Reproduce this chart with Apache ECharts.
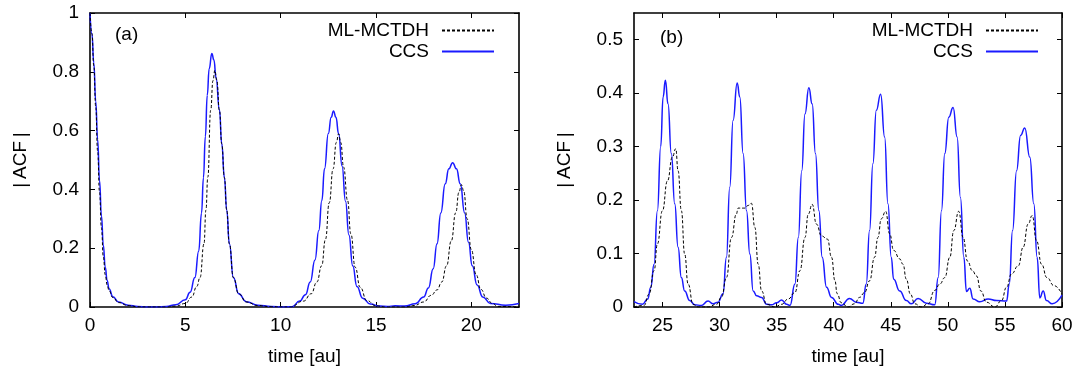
<!DOCTYPE html>
<html><head><meta charset="utf-8">
<script src="https://cdn.jsdelivr.net/npm/echarts@6/dist/echarts.min.js"></script>
<style>html,body{margin:0;padding:0;background:#fff}#c{width:1080px;height:376px}</style>
</head><body><div id="c"></div>
<script>
// ---- tick labels ----
const aTicksX = [0, 5, 10, 15, 20];
const aTicksY = [0, 0.2, 0.4, 0.6, 0.8, 1];
const bTicksX = [25, 30, 35, 40, 45, 50, 55, 60];
const bTicksY = [0, 0.1, 0.2, 0.3, 0.4, 0.5];
const seriesNames = ['ML-MCTDH', 'CCS'];

// ---- panel (a): CCS ----
const aCcsT = [0,0.1,0.2,0.3,0.4,0.5,0.6,0.7,0.8,0.9,1.0,1.2,1.5,2.0,2.5,3.0,3.5,4.0,4.5,5.0,5.25,5.5,5.7,5.85,5.95,6.05,6.15,6.25,6.39,6.5,6.61,6.79,6.91,7.05,7.17,7.31,7.52,7.8,8.2,8.8,9.5,10.2,10.6,11.0,11.3,11.55,11.8,12.0,12.16,12.3,12.5,12.65,12.77,12.9,13.04,13.22,13.4,13.58,13.78,14.0,14.3,14.7,15.2,15.6,16.0,16.5,17.06,17.5,17.75,18.0,18.2,18.4,18.63,18.82,19.02,19.22,19.42,19.65,19.85,20.05,20.3,20.6,21.0,21.8,22.5];
const aCcsV = [1.0,0.93,0.83,0.70,0.57,0.43,0.31,0.21,0.135,0.09,0.062,0.035,0.017,0.006,0.002,0.0,0.0,0.002,0.008,0.025,0.05,0.10,0.19,0.32,0.44,0.58,0.72,0.81,0.862,0.84,0.78,0.67,0.555,0.44,0.33,0.215,0.10,0.045,0.018,0.006,0.002,0.0,0.001,0.02,0.042,0.085,0.16,0.26,0.362,0.47,0.59,0.645,0.667,0.645,0.589,0.48,0.36,0.245,0.14,0.07,0.03,0.01,0.003,0.002,0.004,0.003,0.011,0.034,0.065,0.13,0.215,0.32,0.419,0.47,0.491,0.47,0.419,0.32,0.22,0.14,0.075,0.034,0.012,0.006,0.012];
// ---- panel (a): ML-MCTDH ----
const aMlT = [0,0.1,0.2,0.3,0.4,0.5,0.6,0.7,0.8,0.9,1.0,1.2,1.5,2.0,2.5,3.0,4.0,4.5,5.0,5.34,5.6,5.77,5.98,6.08,6.18,6.33,6.45,6.55,6.65,6.79,6.91,7.05,7.17,7.31,7.52,7.8,8.2,8.8,9.5,10.5,11.2,11.6,11.9,12.15,12.35,12.55,12.75,12.92,13.04,13.15,13.3,13.51,13.68,13.91,14.17,14.52,15.0,15.5,16.5,17.0,17.5,17.9,18.2,18.45,18.7,18.95,19.18,19.35,19.48,19.6,19.78,20.0,20.25,20.5,20.8,21.1,21.4,22.5];
const aMlV = [1.0,0.93,0.82,0.68,0.53,0.39,0.27,0.17,0.11,0.075,0.055,0.032,0.015,0.005,0.001,0.0,0.0,0.003,0.012,0.034,0.07,0.10,0.215,0.33,0.442,0.669,0.77,0.805,0.77,0.669,0.555,0.44,0.33,0.215,0.10,0.045,0.017,0.005,0.001,0.0,0.02,0.045,0.085,0.14,0.23,0.355,0.47,0.56,0.589,0.56,0.476,0.362,0.249,0.135,0.067,0.022,0.004,0.0,0.0,0.005,0.017,0.04,0.058,0.085,0.14,0.225,0.32,0.39,0.416,0.395,0.3,0.195,0.11,0.06,0.03,0.012,0.002,0.0];

// ---- panel (b): CCS ----
const bCcsT = [22.5,23.24,23.7,23.97,24.26,24.55,24.84,25.05,25.25,25.48,25.77,26.07,26.36,26.65,26.94,27.38,27.82,28.4,28.99,29.43,29.87,30.3,30.6,30.89,31.18,31.54,31.77,32.06,32.36,32.65,32.94,33.24,33.68,34.12,34.56,35.0,35.43,35.87,36.17,36.6,36.9,37.2,37.48,37.82,38.11,38.4,38.7,38.99,39.37,39.81,40.4,40.66,41.38,41.97,42.55,42.85,43.14,43.43,43.73,44.11,44.46,44.75,45.04,45.25,45.78,46.36,46.8,47.39,48.12,48.85,49.15,49.44,49.73,50.08,50.46,50.81,51.1,51.4,51.63,51.92,52.21,52.8,53.53,54.26,55.14,55.38,55.67,56.02,56.37,56.74,57.18,57.53,57.82,58.06,58.35,58.64,59.14,60];
const bCcsV = [0.01,0.005,0.015,0.037,0.08,0.18,0.30,0.393,0.424,0.38,0.287,0.193,0.112,0.055,0.03,0.012,0.004,0.003,0.011,0.006,0.009,0.025,0.093,0.224,0.349,0.419,0.393,0.287,0.18,0.099,0.03,0.021,0.018,0.005,0.004,0.008,0.013,0.005,0.003,0.043,0.13,0.255,0.361,0.41,0.38,0.287,0.18,0.093,0.037,0.018,0.005,0.003,0.016,0.009,0.007,0.043,0.143,0.268,0.368,0.398,0.318,0.193,0.093,0.052,0.03,0.012,0.006,0.016,0.007,0.004,0.055,0.18,0.287,0.355,0.373,0.318,0.205,0.093,0.029,0.035,0.015,0.01,0.015,0.012,0.011,0.043,0.143,0.255,0.321,0.335,0.28,0.193,0.093,0.017,0.03,0.012,0.006,0.022];
// ---- panel (b): ML-MCTDH ----
const bMlT = [22.5,23.38,23.82,24.26,24.55,24.99,25.43,25.87,26.16,26.36,26.65,26.94,27.24,27.68,28.11,28.99,29.72,30.16,30.6,31.04,31.47,31.62,32.21,32.5,32.79,33.09,33.38,33.68,34.12,34.85,35.43,36.01,36.6,37.04,37.48,37.77,38.11,38.49,38.93,39.45,39.81,40.1,40.3,40.66,41.24,41.82,42.26,42.7,43.14,43.58,43.87,44.17,44.55,44.9,45.25,45.78,46.07,46.36,46.72,47.1,47.68,48.27,48.85,49.3,49.73,50.17,50.52,50.95,51.34,51.72,52.15,52.51,52.89,53.38,54.12,54.7,55.14,55.58,56.17,56.6,57.03,57.39,57.77,58.21,58.68,59.3,60];
const bMlV = [0.0,0.003,0.024,0.068,0.118,0.18,0.236,0.281,0.296,0.255,0.18,0.099,0.043,0.005,0.0,0.0,0.005,0.018,0.055,0.13,0.174,0.185,0.185,0.19,0.194,0.149,0.08,0.03,0.005,0.0,0.005,0.015,0.027,0.068,0.13,0.174,0.192,0.155,0.133,0.127,0.093,0.05,0.025,0.008,0.0,0.006,0.018,0.027,0.049,0.093,0.13,0.165,0.179,0.137,0.106,0.09,0.08,0.052,0.024,0.006,0.0,0.006,0.031,0.043,0.055,0.093,0.143,0.179,0.13,0.086,0.068,0.058,0.03,0.009,0.0,0.012,0.037,0.062,0.077,0.112,0.155,0.171,0.124,0.08,0.055,0.04,0.024];

const zip = (t, v) => t.map((x, i) => [x, v[i]]);
const FONT = 'Liberation Sans, Arial, sans-serif';
const FS = 19;
const BLUE = '#1a1aff';

function xAx(grid, min, max, ticks, pos, name) {
  return {
    type: 'value', gridIndex: grid, min: min, max: max, position: pos,
    name: name || '', nameLocation: 'middle', nameGap: 40,
    nameTextStyle: {fontFamily: FONT, fontSize: FS, color: '#000'},
    axisLine: {show: true, onZero: false, lineStyle: {color: '#000', width: 1.6}},
    axisTick: {show: true, inside: true, length: 5, customValues: ticks, lineStyle: {color: '#000', width: 1}},
    axisLabel: {show: pos === 'bottom', customValues: ticks, margin: 9, fontFamily: FONT, fontSize: FS, color: '#000'},
    splitLine: {show: false}
  };
}
function yAx(grid, min, max, ticks, pos, name) {
  return {
    type: 'value', gridIndex: grid, min: min, max: max, position: pos,
    name: name || '', nameLocation: 'middle', nameGap: 60, nameRotate: 90,
    nameTextStyle: {fontFamily: FONT, fontSize: FS, color: '#000'},
    axisLine: {show: true, onZero: false, lineStyle: {color: '#000', width: 1.6}},
    axisTick: {show: true, inside: true, length: 5, customValues: ticks, lineStyle: {color: '#000', width: 1}},
    axisLabel: {show: pos === 'left', customValues: ticks, margin: 11, fontFamily: FONT, fontSize: FS, color: '#000'},
    splitLine: {show: false}
  };
}
function legend(right) {
  return {
    data: seriesNames, orient: 'vertical', align: 'right', right: right, top: 16,
    itemWidth: 52, itemHeight: 10, itemGap: 2, selectedMode: false,
    itemStyle: {opacity: 0},
    textStyle: {fontFamily: FONT, fontSize: FS, lineHeight: 19, color: '#000', padding: [0, 8, 0, 0]}
  };
}
function ser(name, xi, yi, data, dashed) {
  return {
    name: name, type: 'line', xAxisIndex: xi, yAxisIndex: yi, data: data,
    symbol: 'none', showSymbol: false, smooth: 0.5, smoothMonotone: 'x',
    lineStyle: dashed ? {color: '#000', width: 1, type: [3, 2]} : {color: BLUE, width: 1.5},
    itemStyle: {color: dashed ? '#000' : BLUE},
    z: dashed ? 3 : 2
  };
}

const chart = echarts.init(document.getElementById('c'), null, {renderer: 'canvas'});
chart.setOption({
  animation: false,
  backgroundColor: '#fff',
  grid: [
    {left: 90, top: 13, width: 429, height: 294},
    {left: 634, top: 13, width: 428, height: 294}
  ],
  xAxis: [
    xAx(0, 0, 22.5, aTicksX, 'bottom', 'time [au]'),
    xAx(0, 0, 22.5, aTicksX, 'top'),
    xAx(1, 22.5, 60, bTicksX, 'bottom', 'time [au]'),
    xAx(1, 22.5, 60, bTicksX, 'top')
  ],
  yAxis: [
    yAx(0, 0, 1, aTicksY, 'left', '|\u2009ACF\u2009|'),
    yAx(0, 0, 1, aTicksY, 'right'),
    yAx(1, 0, 0.55, bTicksY, 'left', '|\u2009ACF\u2009|'),
    yAx(1, 0, 0.55, bTicksY, 'right')
  ],
  legend: [legend(580), legend(36)],
  graphic: [
    {type: 'text', left: 115, top: 25, style: {text: '(a)', fontFamily: FONT, fontSize: FS, fill: '#000'}},
    {type: 'text', left: 660, top: 28, style: {text: '(b)', fontFamily: FONT, fontSize: FS, fill: '#000'}}
  ],
  series: [
    ser('ML-MCTDH', 0, 0, zip(aMlT, aMlV), true),
    ser('CCS', 0, 0, zip(aCcsT, aCcsV), false),
    ser('ML-MCTDH', 2, 2, zip(bMlT, bMlV), true),
    ser('CCS', 2, 2, zip(bCcsT, bCcsV), false)
  ]
});
</script></body></html>
